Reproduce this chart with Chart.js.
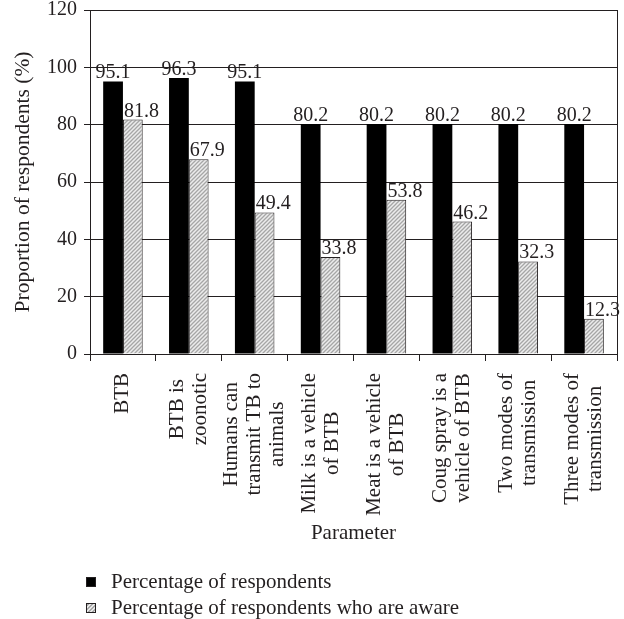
<!DOCTYPE html>
<html>
<head>
<meta charset="utf-8">
<script src="https://cdn.jsdelivr.net/npm/chart.js@4"></script>
<style>
    body { margin: 0; background: #fff; }
    #wrap { position: relative; width: 624px; height: 619px; }
    #legend { position: absolute; left: 86px; top: 568px; font-family: "Liberation Serif", serif; font-size: 21px; color: #231f20; }
    .row { height: 26px; line-height: 26px; white-space: nowrap; }
    .box { display: inline-block; width: 8px; height: 8px; border: 1px solid #231f20; margin-right: 15px; vertical-align: 1px; }
    .box.black { background: #000; }
    .box.hatch { background: repeating-linear-gradient(-45deg, #e8e8e8 0 1.4px, #a8a8a8 1.4px 2.8px); }
</style>
</head>
<body>
<div id="wrap">
    <canvas id="chart" width="624" height="619"></canvas>
    <div id="legend">
        <div class="row"><span class="box black"></span>Percentage of respondents</div>
        <div class="row"><span class="box hatch"></span>Percentage of respondents who are aware</div>
    </div>
</div>
<script>
const categories = [
    ['BTB'],
    ['BTB is', 'zoonotic'],
    ['Humans can', 'transmit TB to', 'animals'],
    ['Milk is a vehicle', 'of BTB'],
    ['Meat is a vehicle', 'of BTB'],
    ['Coug spray is a', 'vehicle of BTB'],
    ['Two modes of', 'transmission'],
    ['Three modes of', 'transmission']
];
const respondents = [95.1, 96.3, 95.1, 80.2, 80.2, 80.2, 80.2, 80.2];
const aware = [81.8, 67.9, 49.4, 33.8, 53.8, 46.2, 32.3, 12.3];
const seriesNames = ['Percentage of respondents', 'Percentage of respondents who are aware'];

const FONT = '"Liberation Serif", serif';
const INK = '#231f20';

// diagonal hatch for the second series
function makeHatch() {
    const c = document.createElement('canvas');
    c.width = 4; c.height = 4;
    const g = c.getContext('2d');
    g.fillStyle = '#ececec';
    g.fillRect(0, 0, 4, 4);
    g.strokeStyle = '#a6a6a6';
    g.lineWidth = 1.3;
    g.beginPath();
    g.moveTo(0, 4); g.lineTo(4, 0);
    g.moveTo(-1, 1); g.lineTo(1, -1);
    g.moveTo(3, 5); g.lineTo(5, 3);
    g.stroke();
    return g.createPattern(c, 'repeat');
}

// black bars: label centred; hatched bars: label starts at the bar's left edge
const valueLabels = {
    id: 'valueLabels',
    afterDatasetsDraw(chart) {
        const ctx = chart.ctx;
        ctx.save();
        ctx.font = '20px ' + FONT;
        ctx.fillStyle = INK;
        ctx.textBaseline = 'alphabetic';
        chart.data.datasets.forEach((ds, di) => {
            chart.getDatasetMeta(di).data.forEach((bar, i) => {
                const txt = ds.data[i].toFixed(1);
                if (di === 0) {
                    ctx.textAlign = 'center';
                    ctx.fillText(txt, bar.x, bar.y - 3);
                } else {
                    ctx.textAlign = 'left';
                    ctx.fillText(txt, bar.x - bar.width / 2 + 1, bar.y - 3);
                }
            });
        });
        ctx.restore();
    }
};

const frameAndLabels = {
    id: 'frameAndLabels',
    afterDraw(chart) {
        const ctx = chart.ctx;
        const area = chart.chartArea;
        const x = chart.scales.x;
        ctx.save();
        ctx.strokeStyle = INK;
        ctx.lineWidth = 1;
        ctx.beginPath();
        ctx.moveTo(Math.round(area.right) + 0.5, area.top);
        ctx.lineTo(Math.round(area.right) + 0.5, area.bottom);
        ctx.stroke();

        // rotated category labels, lines centred on each other
        ctx.font = '21px ' + FONT;
        ctx.fillStyle = INK;
        ctx.textAlign = 'center';
        ctx.textBaseline = 'middle';
        const lineH = 23;
        categories.forEach((lines, i) => {
            const cx = x.getPixelForTick(i);
            const maxW = Math.max(...lines.map(l => ctx.measureText(l).width));
            ctx.save();
            ctx.translate(cx, area.bottom + 19);
            ctx.rotate(-Math.PI / 2);
            lines.forEach((l, k) => {
                ctx.fillText(l, -maxW / 2, (k - (lines.length - 1) / 2) * lineH);
            });
            ctx.restore();
        });
        ctx.restore();
    }
};

new Chart(document.getElementById('chart'), {
    type: 'bar',
    data: {
        labels: categories.map(c => c.join(' ')),
        datasets: [
            {
                label: seriesNames[0],
                data: respondents,
                backgroundColor: '#000',
                borderWidth: 0,
                categoryPercentage: 0.6,
                barPercentage: 1.0
            },
            {
                label: seriesNames[1],
                data: aware,
                backgroundColor: makeHatch(),
                borderColor: INK,
                borderWidth: 1,
                categoryPercentage: 0.6,
                barPercentage: 1.0
            }
        ]
    },
    options: {
        responsive: false,
        animation: false,
        layout: { padding: { left: 0, top: 10, right: 7, bottom: 0 } },
        plugins: {
            legend: { display: false },
            tooltip: { enabled: false }
        },
        scales: {
            x: {
                grid: { drawOnChartArea: false, drawTicks: true, tickLength: 7, color: INK, offset: true },
                border: { color: INK },
                ticks: { display: false },
                title: {
                    display: true,
                    text: 'Parameter',
                    color: INK,
                    font: { family: FONT, size: 21 },
                    padding: { top: 0, bottom: 73 }
                },
                afterFit(scale) { scale.height = 265; }
            },
            y: {
                min: 0,
                max: 120,
                ticks: { stepSize: 20, color: INK, padding: 7, font: { family: FONT, size: 20, lineHeight: 0.2 } },
                grid: { color: INK, tickLength: 6 },
                border: { color: INK },
                title: {
                    display: true,
                    text: 'Proportion of respondents (%)',
                    color: INK,
                    font: { family: FONT, size: 21.5 },
                    padding: { top: 10, bottom: 0 }
                },
                afterFit(scale) { scale.width = 90; }
            }
        }
    },
    plugins: [valueLabels, frameAndLabels]
});
</script>
</body>
</html>
